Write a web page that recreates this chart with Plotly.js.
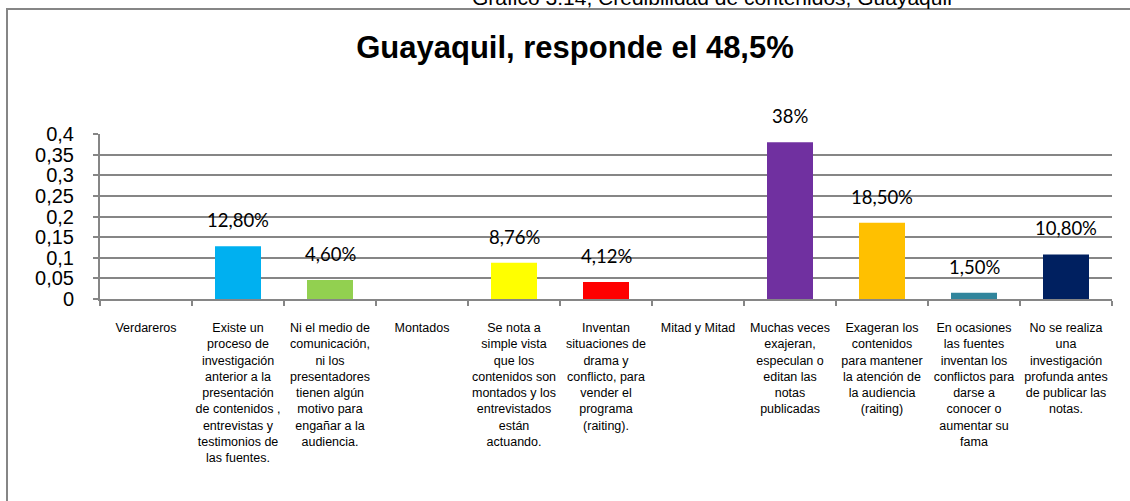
<!DOCTYPE html>
<html>
<head>
<meta charset="utf-8">
<script src="https://cdn.plot.ly/plotly-3.0.1.min.js"></script>
<style>
html,body{margin:0;padding:0;background:#fff;}
#chart{width:1130px;height:501px;}
</style>
</head>
<body>
<div id="chart"></div>
<script>
var categories = [
  "Verdareros",
  "Existe un<br>proceso de<br>investigación<br>anterior a la<br>presentación<br>de contenidos ,<br>entrevistas y<br>testimonios de<br>las fuentes.",
  "Ni el medio de<br>comunicación,<br>ni los<br>presentadores<br>tienen algún<br>motivo para<br>engañar a la<br>audiencia.",
  "Montados",
  "Se nota a<br>simple vista<br>que los<br>contenidos son<br>montados y los<br>entrevistados<br>están<br>actuando.",
  "Inventan<br>situaciones de<br>drama y<br>conflicto, para<br>vender el<br>programa<br>(raiting).",
  "Mitad y Mitad",
  "Muchas veces<br>exajeran,<br>especulan o<br>editan las<br>notas<br>publicadas",
  "Exageran los<br>contenidos<br>para mantener<br>la atención de<br>la audiencia<br>(raiting)",
  "En ocasiones<br>las fuentes<br>inventan los<br>conflictos para<br>darse a<br>conocer o<br>aumentar su<br>fama",
  "No se realiza<br>una<br>investigación<br>profunda antes<br>de publicar las<br>notas."
];
var values = [0, 0.128, 0.046, 0, 0.0876, 0.0412, 0, 0.38, 0.185, 0.015, 0.108];
var valueLabels = ["", "12,80%", "4,60%", "", "8,76%", "4,12%", "", "38%", "18,50%", "1,50%", "10,80%"];
var barColors = ["#FFFFFF", "#00B0F0", "#92D050", "#FFFFFF", "#FFFF00", "#FF0000", "#FFFFFF", "#7030A0", "#FFC000", "#31859C", "#002060"];
var yTickValues = [0, 0.05, 0.1, 0.15, 0.2, 0.25, 0.3, 0.35, 0.4];

var annotations = [];
for (var i = 0; i < categories.length; i++) {
  if (!valueLabels[i]) continue;
  annotations.push({
    x: categories[i], y: values[i], xref: 'x', yref: 'y',
    text: valueLabels[i], showarrow: false,
    yanchor: 'bottom', yshift: 13,
    font: {family: 'Lato, "Open Sans", sans-serif', size: 18.5, color: '#000'}
  });
}
annotations.push({
  xref: 'paper', yref: 'paper', x: 0.6047, y: 302/165,
  text: 'Gráfico 3.14, Credibilidad de contenidos, Guayaquil',
  showarrow: false, yanchor: 'middle', xanchor: 'center',
  font: {family: '"Liberation Sans", Arial, sans-serif', size: 21, color: '#000'}
});

var trace = {
  type: 'bar',
  x: categories,
  y: values,
  marker: {color: barColors},
  width: 0.5,
  hoverinfo: 'skip'
};

var layout = {
  width: 1130, height: 501,
  margin: {l: 100, r: 18, t: 134, b: 202},
  paper_bgcolor: '#fff', plot_bgcolor: '#fff',
  separators: ',.',
  showlegend: false,
  title: {
    text: '<b>Guayaquil, responde el 48,5%</b>',
    font: {family: '"Liberation Sans", Arial, sans-serif', size: 31, color: '#000'},
    x: 575/1130, xref: 'container', xanchor: 'center',
    y: 1 - 47/501, yref: 'container', yanchor: 'middle'
  },
  xaxis: {
    type: 'category',
    showgrid: false,
    showline: true, linecolor: '#868686', linewidth: 2,
    ticks: 'outside', tickson: 'boundaries', ticklen: 5, tickcolor: '#868686', tickwidth: 2,
    tickangle: 0,
    tickfont: {family: '"Liberation Sans", Arial, sans-serif', size: 12.5, color: '#000'},
    ticklabelstandoff: 16,
    fixedrange: true
  },
  yaxis: {
    range: [0, 0.4],
    tickvals: yTickValues,
    showgrid: true, gridcolor: '#868686', gridwidth: 2,
    showline: true, linecolor: '#868686', linewidth: 2,
    zeroline: false,
    ticks: 'outside', ticklen: 5, tickcolor: '#868686', tickwidth: 2,
    tickfont: {family: '"Liberation Sans", Arial, sans-serif', size: 20, color: '#000'},
    ticklabelstandoff: 15,
    fixedrange: true
  },
  shapes: [{
    type: 'rect', xref: 'paper', yref: 'paper',
    x0: -93/1012, x1: 1100/1012, y0: -220/165, y1: 290/165,
    line: {color: '#868686', width: 2}, fillcolor: 'rgba(0,0,0,0)', layer: 'below'
  }],
  annotations: annotations
};

Plotly.newPlot('chart', [trace], layout, {displayModeBar: false, staticPlot: true});
</script>
</body>
</html>
